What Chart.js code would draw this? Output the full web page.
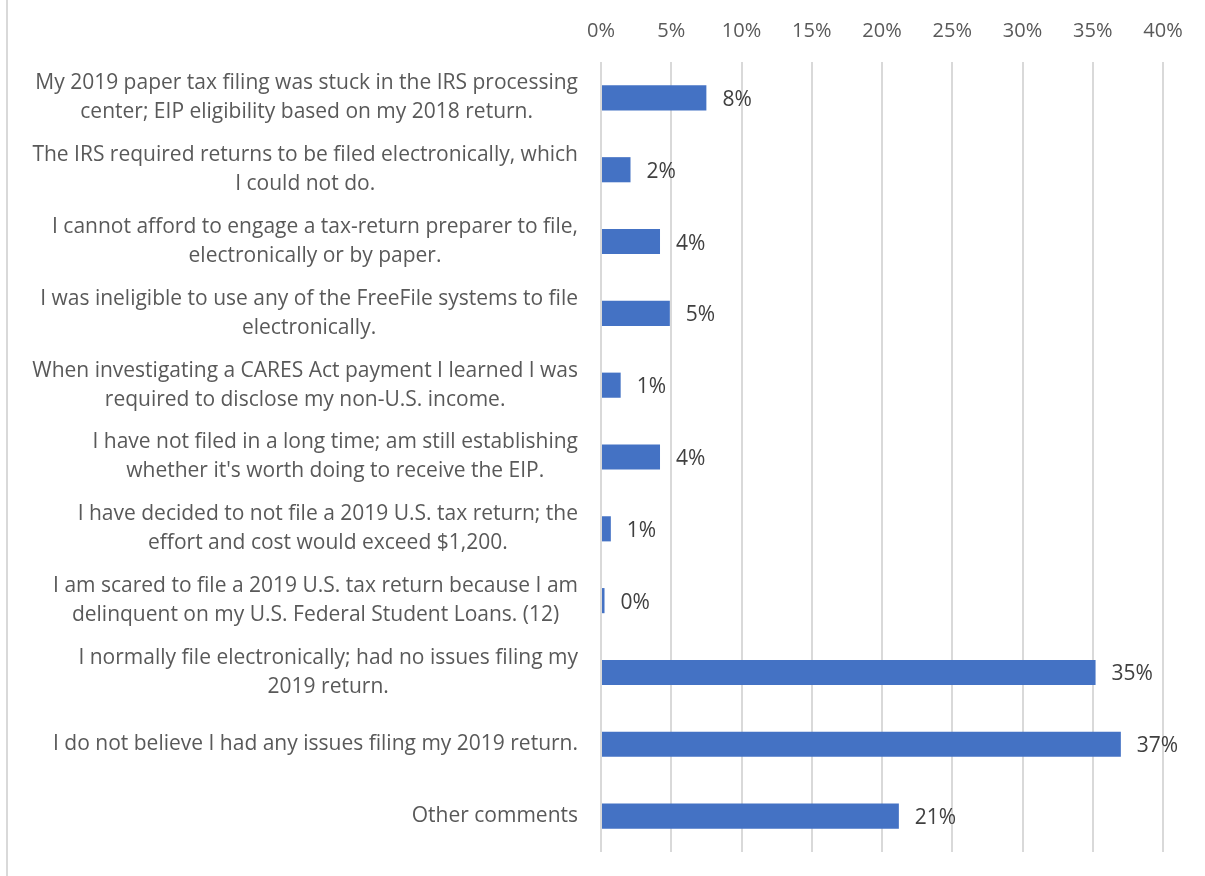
<!DOCTYPE html>
<html>
<head>
<meta charset="utf-8">
<script src="https://cdn.jsdelivr.net/npm/chart.js@4"></script>
<style>
  body { margin: 0; background: #fff; }
  #wrap { position: relative; width: 1205px; height: 876px; }
  #edge { position: absolute; left: 6px; top: 0; width: 2px; height: 876px; background: #d9d9d9; }
</style>
</head>
<body>
<div id="wrap">
  <div id="edge"></div>
  <canvas id="chart"></canvas>
</div>
<script>
// categories, one entry per bar, split the way the picture wraps them
const categories = [
  ['My 2019 paper tax filing was stuck in the IRS processing', 'center; EIP eligibility based on my 2018 return.'],
  ['The IRS required returns to be filed electronically, which', 'I could not do.'],
  ['I cannot afford to engage a tax-return preparer to file,', 'electronically or by paper.'],
  ['I was ineligible to use any of the FreeFile systems to file', 'electronically.'],
  ['When investigating a CARES Act payment I learned I was', 'required to disclose my non-U.S. income.'],
  ['I have not filed in a long time; am still establishing', "whether it's worth doing to receive the EIP."],
  ['I have decided to not file a 2019 U.S. tax return; the', 'effort and cost would exceed $1,200.'],
  ['I am scared to file a 2019 U.S. tax return because I am', 'delinquent on my U.S. Federal Student Loans. (12)'],
  ['I normally file electronically; had no issues filing my', '2019 return.'],
  ['I do not believe I had any issues filing my 2019 return.'],
  ['Other comments']
];
// share of responses, percent
const values = [7.5, 2.1, 4.2, 4.9, 1.4, 4.2, 0.7, 0.25, 35.2, 37.0, 21.2];
// x axis ticks
const xMin = 0;
const xMax = 40;
const xStep = 5;

const FONT = '"Open Sans", Lato, sans-serif';
const LABEL_SIZE = 21;
const LINE_GAP = 29;

// draws the wrapped category labels (lines centred in a right-aligned block, like Excel)
// and the rounded value labels next to each bar
const labelPlugin = {
  id: 'labels',
  afterDraw(chart) {
    const ctx = chart.ctx;
    const yScale = chart.scales.y;
    ctx.save();
    ctx.font = LABEL_SIZE + 'px ' + FONT;
    ctx.fillStyle = '#595959';
    ctx.textAlign = 'center';
    ctx.textBaseline = 'middle';
    categories.forEach((lines, i) => {
      const yc = yScale.getPixelForValue(i);
      const maxW = Math.max(...lines.map(l => ctx.measureText(l).width));
      const cx = yScale.right - 23 - maxW / 2;
      lines.forEach((l, j) => {
        ctx.fillText(l, cx, yc + (j - (lines.length - 1) / 2) * LINE_GAP);
      });
    });

    ctx.fillStyle = '#404040';
    ctx.textAlign = 'left';
    const meta = chart.getDatasetMeta(0);
    meta.data.forEach((bar, i) => {
      ctx.fillText(Math.round(values[i]) + '%', bar.x + 16, bar.y + 2);
    });
    ctx.restore();
  }
};

new Chart(document.getElementById('chart'), {
  type: 'bar',
  data: {
    labels: categories,
    datasets: [{
      data: values,
      backgroundColor: '#4472C4',
      borderWidth: 0,
      barPercentage: 0.7,
      categoryPercentage: 0.5
    }]
  },
  options: {
    indexAxis: 'y',
    responsive: true,
    maintainAspectRatio: false,
    animation: false,
    layout: { padding: { left: 0, right: 42, top: 0, bottom: 24 } },
    plugins: {
      legend: { display: false },
      tooltip: { enabled: false }
    },
    scales: {
      x: {
        position: 'top',
        min: xMin,
        max: xMax,
        ticks: {
          stepSize: xStep,
          callback: v => v + '%',
          color: '#595959',
          font: { family: FONT, size: 20 },
          padding: 19
        },
        grid: { color: '#d9d9d9', lineWidth: 2, drawTicks: false },
        border: { display: false },
        afterFit(scale) { scale.height = 62; }
      },
      y: {
        ticks: { display: false },
        grid: { display: false },
        border: { display: false },
        afterFit(scale) { scale.width = 601; }
      }
    }
  },
  plugins: [labelPlugin]
});
</script>
</body>
</html>
